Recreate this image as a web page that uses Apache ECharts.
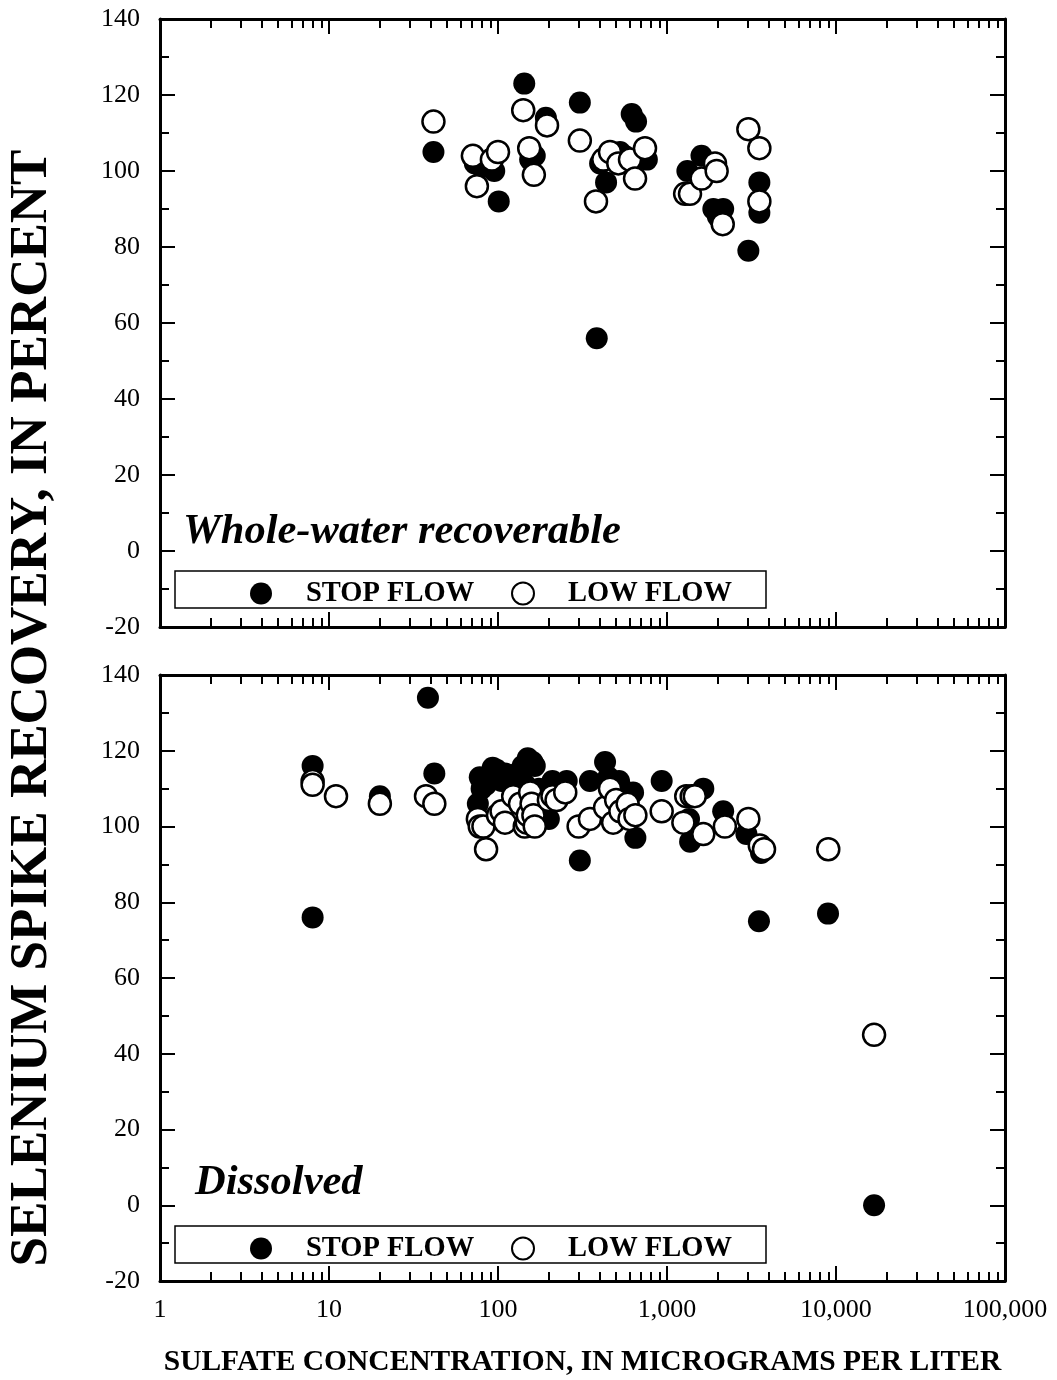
<!DOCTYPE html>
<html>
<head>
<meta charset="utf-8">
<script src="https://cdn.jsdelivr.net/npm/echarts@6/dist/echarts.min.js"></script>
<style>
  html, body { margin: 0; padding: 0; background: #fff; }
  #chart { width: 1057px; height: 1380px; }
</style>
</head>
<body>
<div id="chart"></div>
<script>
// selenium spike recovery vs sulfate (two panels)

const FONT = "'Liberation Serif', 'DejaVu Serif', serif";

// [sulfate ug/L, recovery %]
const wholeStop = [
  [41.5, 105], [73, 102], [80, 101], [95, 100], [101, 92], [143, 123], [155, 103],
  [165, 104], [192, 114], [305, 118], [384, 56], [402, 102], [436, 97], [527, 105],
  [560, 104], [618, 115], [656, 113], [760, 103], [1320, 100], [1600, 104],
  [1880, 90], [2000, 88], [2150, 90], [3030, 79], [3520, 97], [3520, 89]
];
const wholeLow = [
  [41.5, 113], [71, 104], [75, 96], [92, 103], [100, 105], [141, 116], [153, 106],
  [163, 99], [195, 112], [305, 108], [380, 92], [420, 103], [460, 105], [515, 102],
  [604, 103], [647, 98], [741, 106], [1280, 94], [1368, 94], [1603, 98],
  [1923, 102], [1967, 100], [2137, 86], [3030, 111], [3520, 106], [3520, 92]
];
const dissolvedStop = [
  [8, 116], [8, 76], [20, 108], [38.5, 134], [42, 114], [76, 106], [78, 113],
  [80, 110], [85, 111], [93, 115.5], [98, 115], [100, 114], [105, 112], [110, 114],
  [120, 113], [130, 114], [140, 116], [150, 118], [160, 117], [165, 116], [145, 111],
  [175, 110], [200, 102], [210, 112], [220, 111], [255, 112], [305, 91], [350, 112],
  [430, 117], [450, 113], [520, 112], [540, 110], [630, 109], [650, 97], [930, 112],
  [1350, 102], [1370, 96], [1640, 110], [2150, 104], [2950, 98], [3600, 93],
  [3500, 75], [8970, 77], [16800, 0]
];
const dissolvedLow = [
  [8, 112], [8, 111], [11, 108], [20, 106], [37.5, 108], [42, 106], [76, 102],
  [78, 100], [82, 100], [85, 94], [100, 103], [105, 104], [110, 101], [123, 108],
  [135, 106], [144, 100], [148, 101], [150, 103], [155, 109], [158, 106], [162, 103],
  [165, 100], [200, 107], [210, 108], [222, 107], [250, 109], [300, 100], [350, 102],
  [430, 105], [460, 110], [480, 101], [500, 107], [530, 104], [585, 106], [600, 102],
  [650, 103], [930, 104], [1250, 101], [1300, 108], [1400, 108], [1460, 108],
  [1640, 98], [2200, 100], [3030, 102], [3540, 95], [3750, 94], [9000, 94], [16800, 45]
];

const xMajor = [1, 10, 100, 1000, 10000, 100000];
const xMinor = [];
for (let d = 1; d < 100000; d *= 10) {
  for (let k = 2; k <= 9; k++) xMinor.push(k * d);
}

const GRIDS = [
  { left: 160, top: 19, width: 845, height: 608 },
  { left: 160, top: 675, width: 845, height: 606 }
];

function xAxes(gridIndex, withLabels) {
  const base = {
    type: "log", logBase: 10, min: 1, max: 100000, gridIndex,
    splitLine: { show: false }, minorSplitLine: { show: false }
  };
  const line = { show: true, onZero: false, lineStyle: { color: "#000", width: 3 } };
  const major = {
    ...base, position: "bottom", axisLine: line,
    axisTick: { show: true, inside: true, length: 15, customValues: xMajor, lineStyle: { color: "#000", width: 2 } },
    axisLabel: withLabels
      ? { show: true, customValues: xMajor, margin: 16, color: "#000", fontFamily: FONT, fontSize: 26,
          formatter: (v) => Number(v).toLocaleString("en-US") }
      : { show: false }
  };
  if (withLabels) {
    major.name = "SULFATE CONCENTRATION, IN MICROGRAMS PER LITER";
    major.nameLocation = "middle";
    major.nameGap = 66;
    major.nameTextStyle = { color: "#000", fontFamily: FONT, fontSize: 29.5, fontWeight: "bold" };
  }
  const minor = {
    ...base, position: "bottom", axisLine: { show: false, onZero: false },
    axisTick: { show: true, inside: true, length: 9, customValues: xMinor, lineStyle: { color: "#000", width: 2 } },
    axisLabel: { show: false }
  };
  return [
    major,
    minor,
    { ...major, position: "top", axisLabel: { show: false }, name: "" },
    { ...minor, position: "top" }
  ];
}

function yAxes(gridIndex) {
  const left = {
    type: "value", min: -20, max: 140, interval: 20, gridIndex, position: "left",
    axisLine: { show: true, onZero: false, lineStyle: { color: "#000", width: 3 } },
    axisTick: { show: true, inside: true, length: 15, lineStyle: { color: "#000", width: 2 } },
    minorTick: { show: true, splitNumber: 2, length: 9, lineStyle: { color: "#000", width: 2 } },
    splitLine: { show: false },
    axisLabel: { show: true, margin: 20, color: "#000", fontFamily: FONT, fontSize: 26 }
  };
  return [left, { ...left, position: "right", axisLabel: { show: false } }];
}

function scatter(name, data, xi, yi, filled) {
  return {
    name, type: "scatter", data, xAxisIndex: xi, yAxisIndex: yi,
    symbol: "circle", symbolSize: 22,
    itemStyle: filled
      ? { color: "#000", borderColor: "#000", borderWidth: 0, opacity: 1 }
      : { color: "#fff", borderColor: "#000", borderWidth: 2.5, opacity: 1 },
    emphasis: { disabled: true }
  };
}

function legendItem(name, left, top) {
  return {
    data: [name], left, top, orient: "horizontal",
    itemWidth: 22, itemHeight: 22, padding: 0,
    selectedMode: false,
    textStyle: { color: "#000", fontFamily: FONT, fontSize: 28.5, fontWeight: "bold", padding: [0, 0, 0, 29] }
  };
}

const chart = echarts.init(document.getElementById("chart"), null, { renderer: "canvas" });

chart.setOption({
  backgroundColor: "#fff",
  animation: false,
  grid: GRIDS.map((g) => ({ ...g, containLabel: false, outerBoundsMode: "none" })),
  xAxis: [...xAxes(0, false), ...xAxes(1, true)],
  yAxis: [...yAxes(0), ...yAxes(1)],
  legend: [
    legendItem("STOP FLOW", 250, 579),
    legendItem("LOW FLOW", 511, 579),
    legendItem("STOP FLOW", 250, 1234),
    legendItem("LOW FLOW", 511, 1234)
  ],
  series: [
    scatter("STOP FLOW", wholeStop, 0, 0, true),
    scatter("LOW FLOW", wholeLow, 0, 0, false),
    scatter("STOP FLOW", dissolvedStop, 4, 2, true),
    scatter("LOW FLOW", dissolvedLow, 4, 2, false)
  ],
  graphic: [
    // legend boxes
    { type: "rect", shape: { x: 175, y: 571, width: 591, height: 37 }, style: { fill: "none", stroke: "#000", lineWidth: 1.5 }, z: 1 },
    { type: "rect", shape: { x: 175, y: 1226, width: 591, height: 37 }, style: { fill: "none", stroke: "#000", lineWidth: 1.5 }, z: 1 },
    // panel labels
    { type: "text", x: 183, y: 532, style: { text: "Whole-water recoverable", font: "italic bold 42.5px " + FONT, fill: "#000", verticalAlign: "middle" } },
    { type: "text", x: 195, y: 1183, style: { text: "Dissolved", font: "italic bold 42.5px " + FONT, fill: "#000", verticalAlign: "middle" } },
    // shared y title
    { type: "text", x: 32, y: 708, rotation: Math.PI / 2,
      style: { text: "SELENIUM SPIKE RECOVERY, IN PERCENT", font: "bold 53px " + FONT, fill: "#000", align: "center", verticalAlign: "middle" } }
  ]
});
</script>
</body>
</html>
